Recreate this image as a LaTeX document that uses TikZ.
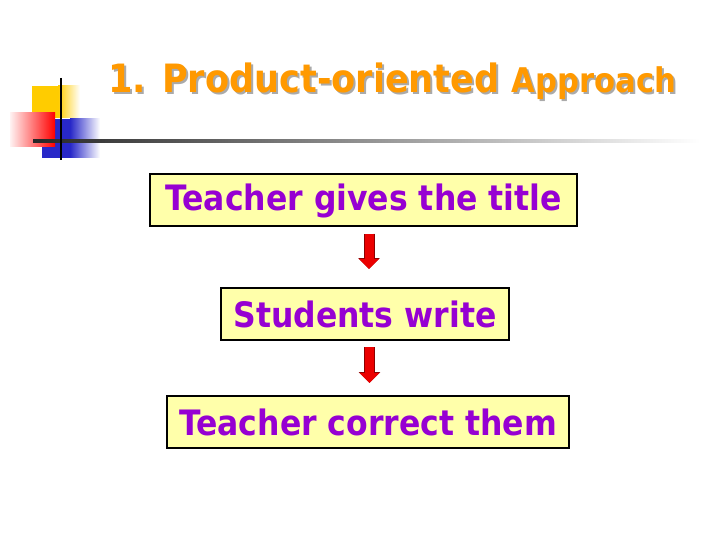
\documentclass[tikz,border=0pt]{standalone}
\usepackage{fontspec}
\usepackage{tikz}
\usetikzlibrary{arrows.meta}

\newfontfamily\slidefont[FakeStretch=0.9]{DejaVu Sans}

\definecolor{slideorange}{RGB}{255,153,0}
\definecolor{slideshade}{RGB}{170,170,170}
\definecolor{slidepurple}{RGB}{150,0,210}
\definecolor{slidefill}{RGB}{255,255,170}
\definecolor{arrowred}{RGB}{235,0,0}
\definecolor{arrowedge}{RGB}{140,0,0}
\definecolor{decoyellow}{RGB}{255,204,0}
\definecolor{decoblue}{RGB}{40,40,200}

\tikzset{
  stepbox/.style={draw=black, line width=2pt, fill=slidefill, inner sep=0pt,
    minimum height=52pt, text=slidepurple,
    font=\slidefont\bfseries\fontsize{35}{40}\selectfont},
  flowarrow/.style={draw=arrowred, line width=9pt, -{Triangle[width=19pt,length=10pt]},
    preaction={draw=arrowedge, line width=11pt, -{Triangle[width=21pt,length=11pt]}}}
}

\begin{document}
\begin{tikzpicture}[x=1pt,y=-1pt]
        \useasboundingbox (0,0) rectangle (720,540);
        \def \tx {108}  % title start
        \def \ty {93}   % title baseline

        % corner decoration
        \fill[decoyellow] (32,86) rectangle (58,118);
        \shade[left color=decoyellow, right color=white] (58,86) rectangle (80,118);
        \fill[decoblue] (42,119) rectangle (70,158);
        \shade[left color=decoblue, right color=white] (70,119) rectangle (100,158);
        \shade[shading=axis, shading angle=-60, left color=red!5, right color=red] (10,113) rectangle (55,147);
        \shade[left color=black!85, middle color=black!45, right color=white] (33,140) rectangle (700,143);
        \draw[black, line width=2pt] (61,78) -- (61,160);

        % title with shadow
        \foreach \d/\col in {2/slideshade,0/slideorange}{
          \node[anchor=base west, inner sep=0pt, text=\col] at (\tx+\d,\ty+\d) (title)
            {\slidefont\bfseries\fontsize{39}{44}\selectfont 1. Product-oriented
             \fontsize{34}{40}\selectfont Approach};
        }

        % steps
        \foreach \txt/\w/\x/\y [count=\ni from 1] in {Teacher gives the title/427/363.5/200.5,
            Students write/288/365/314, Teacher correct them/402/368/422}{
          \node[stepbox, minimum width=\w pt] at (\x,\y) (s\ni) {\txt};
        }
        \foreach \i/\ax/\bx/\gap [count=\j from 2] in {1/5.5/4/18, 2/4.5/1.5/12}{
          \draw[flowarrow] ([xshift=\ax pt, yshift=-6pt]s\i.south) -- ([xshift=\bx pt, yshift=\gap pt]s\j.north);
        }
\end{tikzpicture}
\end{document}
